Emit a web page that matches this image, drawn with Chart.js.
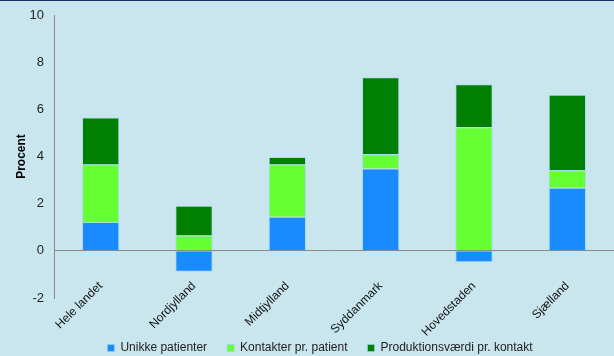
<!DOCTYPE html>
<html>
<head>
<meta charset="utf-8">
<script src="https://cdn.jsdelivr.net/npm/chart.js@4.4.1/dist/chart.umd.min.js"></script>
<style>
  html, body { margin: 0; padding: 0; background: #c9e6ee; }
  #wrap { width: 614px; height: 356px; position: relative; }
</style>
</head>
<body>
<div id="wrap"><canvas id="chart"></canvas></div>
<script>
// Data
const regions = ['Hele landet', 'Nordjylland', 'Midtjylland', 'Syddanmark', 'Hovedstaden', 'Sjælland'];
const uniquePatients = [1.22, -0.89, 1.45, 3.49, -0.48, 2.68];
const contactsPerPatient = [2.44, 0.65, 2.21, 0.61, 5.24, 0.74];
const valuePerContact = [1.99, 1.26, 0.32, 3.26, 1.82, 3.20];
const seriesNames = ['Unikke patienter', 'Kontakter pr. patient', 'Produktionsværdi pr. kontakt'];
const seriesColors = ['#1a8aff', '#66ff33', '#008000'];

const LEGEND_PAD = 20;

// background + top border
const backdrop = {
    id: 'backdrop',
    beforeDraw(chart) {
        const ctx = chart.ctx;
        ctx.save();
        ctx.fillStyle = '#c9e6ee';
        ctx.fillRect(0, 0, chart.width, chart.height);
        ctx.fillStyle = '#1c2d5e';
        ctx.fillRect(0, 0, chart.width, 1);
        ctx.restore();
    }
};

// fixed legend height so the plot bottom lands where it should, nudged right a bit
const legendTweak = {
    id: 'legendTweak',
    beforeUpdate(chart) {
        const lg = chart.legend;
        if (lg && !lg._patched) {
            const origFit = lg.fit.bind(lg);
            lg.fit = function() {
                origFit();
                this.height = 14 + LEGEND_PAD;
            };
            const origDraw = lg.draw.bind(lg);
            lg.draw = function() {
                this.ctx.save();
                this.ctx.translate(8, 0);
                origDraw();
                this.ctx.restore();
            };
            lg._patched = true;
        }
    }
};

function makeSet(i, values) {
    return {
        label: seriesNames[i],
        data: values,
        backgroundColor: seriesColors[i],
        borderColor: 'rgba(150, 210, 235, 0.6)',
        borderWidth: 1,
        barPercentage: 0.4,
        categoryPercentage: 1.0
    };
}

const ctx = document.getElementById('chart').getContext('2d');
new Chart(ctx, {
    type: 'bar',
    data: {
        labels: regions,
        datasets: [
            makeSet(0, uniquePatients),
            makeSet(1, contactsPerPatient),
            makeSet(2, valuePerContact)
        ]
    },
    plugins: [backdrop, legendTweak],
    options: {
        responsive: true,
        maintainAspectRatio: false,
        animation: false,
        layout: { padding: { top: 15, right: 0, left: 10, bottom: 0 } },
        plugins: {
            legend: {
                position: 'bottom',
                labels: {
                    color: '#222',
                    boxWidth: 7,
                    boxHeight: 7,
                    padding: LEGEND_PAD,
                    font: { family: 'Liberation Sans, Arial, sans-serif', size: 12 }
                }
            },
            tooltip: { enabled: false }
        },
        scales: {
            x: {
                stacked: true,
                grid: { display: false },
                border: { display: false },
                ticks: {
                    color: '#111',
                    minRotation: 45,
                    maxRotation: 45,
                    padding: -27,
                    font: { family: 'Liberation Sans, Arial, sans-serif', size: 12 }
                },
                afterFit(scale) {
                    scale.height = 24;
                    // labels sit partly inside the plot, so don't clip them to the axis box
                    scale._computeLabelArea = () => undefined;
                }
            },
            y: {
                stacked: true,
                min: -2,
                max: 10,
                ticks: {
                    stepSize: 2,
                    color: '#222',
                    padding: 10,
                    font: { family: 'Liberation Sans, Arial, sans-serif', size: 13 }
                },
                grid: {
                    drawTicks: false,
                    color: (c) => c.tick && c.tick.value === 0 ? '#8a8a8a' : 'rgba(0,0,0,0)',
                    lineWidth: 1
                },
                border: { display: true, color: '#8a8a8a' },
                title: {
                    display: true,
                    text: 'Procent',
                    color: '#000',
                    font: { family: 'Liberation Sans, Arial, sans-serif', size: 12, weight: 'bold' }
                },
                afterFit(scale) {
                    scale.width = 44;
                    scale.paddingTop = 0;
                }
            }
        }
    }
});
</script>
</body>
</html>
